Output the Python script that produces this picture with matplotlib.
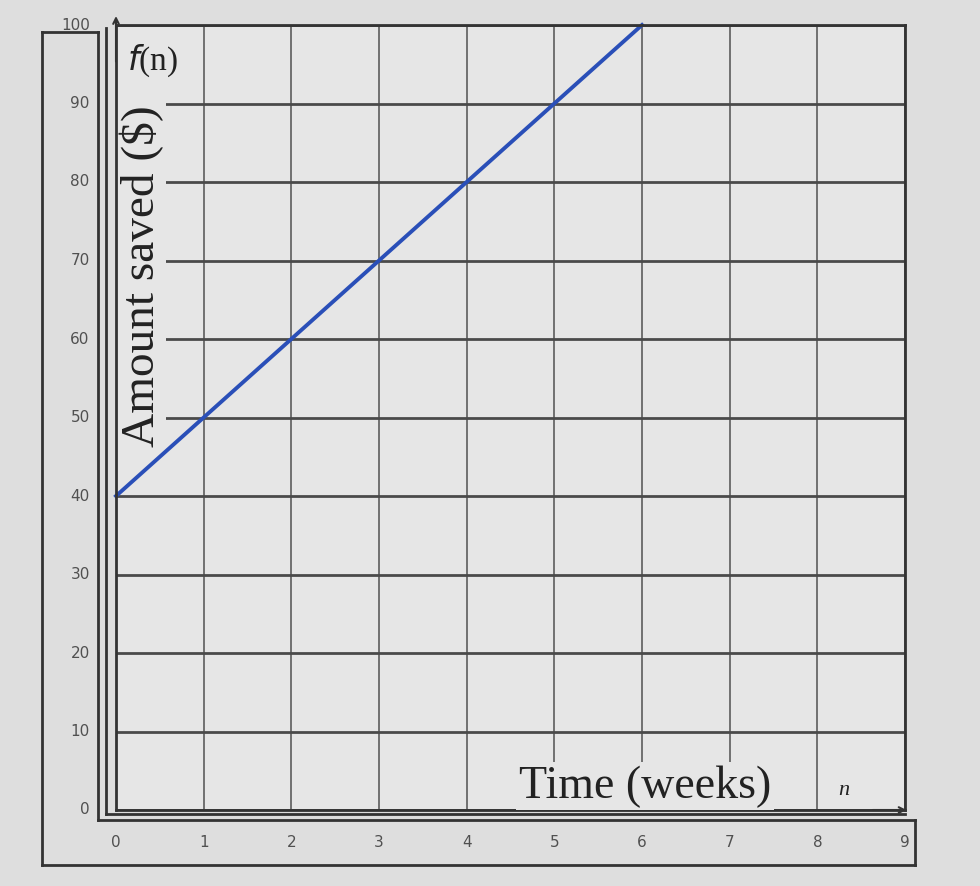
import matplotlib
matplotlib.use("Agg")
import matplotlib.pyplot as plt
from matplotlib.lines import Line2D

# data
weeks = [0, 6]
amount = [40, 100]
x_ticks = [0, 1, 2, 3, 4, 5, 6, 7, 8, 9]
y_ticks = [0, 10, 20, 30, 40, 50, 60, 70, 80, 90, 100]
x_label = "Time (weeks)"
y_label = "Amount saved ($)"

W, H = 980, 886
fig = plt.figure(figsize=(W / 100, H / 100), dpi=100)
fig.patch.set_facecolor("#dedede")

def fx(px):
    return px / W

def fy(py):
    return 1 - py / H

L, R, T, B = 116, 905, 25, 810
ax = fig.add_axes([fx(L), fy(B), fx(R) - fx(L), fy(T) - fy(B)])
ax.set_facecolor("#e6e6e6")
ax.set_xlim(0, 9)
ax.set_ylim(0, 100)
ax.set_xticks(x_ticks)
ax.set_yticks(y_ticks)
ax.grid(True, axis="y", color="#4a4a4a", linewidth=2.0)
ax.grid(True, axis="x", color="#707070", linewidth=1.4)
ax.tick_params(length=0, labelleft=False, labelbottom=False)
for s in ax.spines.values():
    s.set_color("#333333")
    s.set_linewidth(2)
ax.spines["left"].set_zorder(10)
ax.spines["top"].set_zorder(10)
ax.spines["right"].set_zorder(10)

ax.plot(weeks, amount, color="#2a4fb8", linewidth=2.8, zorder=8, clip_on=False)

# tick labels in the outer strips
for v in y_ticks:
    ax.text(-0.3, v, str(v), transform=ax.transData, ha="right", va="center",
            fontsize=11, color="#505050", family="DejaVu Sans Condensed")
for v in x_ticks:
    ax.text(v, -3.2, str(v), transform=ax.transData, ha="center", va="top",
            fontsize=11, color="#505050", family="DejaVu Sans Condensed")

# axis labels inside the plot
ax.text(0.29, 68, y_label, rotation=90, ha="center", va="center",
        fontsize=34, family="Liberation Serif", color="#222222",
        bbox=dict(facecolor="#e6e6e6", edgecolor="none", pad=2), zorder=6)
ax.text(6.03, 3.0, x_label, ha="center", va="center",
        fontsize=33, family="Liberation Serif", color="#222222",
        bbox=dict(facecolor="#e6e6e6", edgecolor="none", pad=2), zorder=6)
ax.text(0.12, 95.5, "$f$(n)", ha="left", va="center", fontsize=24,
        family="Liberation Serif", color="#222222",
        bbox=dict(facecolor="#e6e6e6", edgecolor="none", pad=1), zorder=6)
ax.text(8.3, 2.5, "n", ha="center", va="center", fontsize=16,
        family="Liberation Serif", style="italic", color="#222222",
        bbox=dict(facecolor="#e6e6e6", edgecolor="none", pad=1), zorder=6)

# axis arrows
ax.annotate("", xy=(0, 101.5), xytext=(0, 95), annotation_clip=False,
            arrowprops=dict(arrowstyle="->", color="#333333", lw=1.5))
ax.annotate("", xy=(9.05, 0), xytext=(8.6, 0), annotation_clip=False,
            arrowprops=dict(arrowstyle="->", color="#333333", lw=1.5))

# outer frames (figure coords)
def line(x0, y0, x1, y1, lw=2):
    fig.lines.append(Line2D([fx(x0), fx(x1)], [fy(y0), fy(y1)],
                            transform=fig.transFigure, color="#333333", linewidth=lw))

line(42, 32, 42, 865)           # outer left
line(42, 865, 915, 865)         # outer bottom
line(42, 32, 98, 32)            # strip top
line(98, 32, 98, 820)           # strip right edge
line(98, 820, 915, 820)         # bottom strip top
line(915, 820, 915, 865)
line(106, 28, 106, 814)         # double axis lines
line(106, 814, 905, 814)

fig.savefig("out.png", dpi=100, facecolor=fig.get_facecolor())
